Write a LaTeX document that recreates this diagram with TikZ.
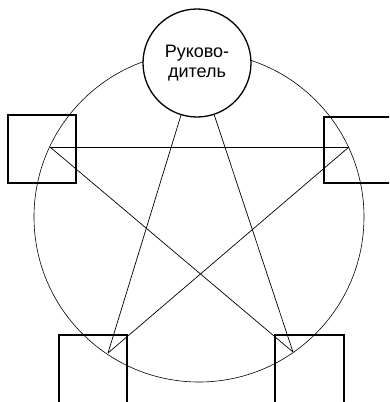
\documentclass[tikz,border=0pt]{standalone}
\usepackage{fontspec}
\setmainfont{Liberation Sans}
\begin{document}
\begin{tikzpicture}[x=1pt,y=-1pt,
  boxst/.style={draw,line width=1.2pt},
  linkst/.style={draw,line width=0.7pt},
  ringst/.style={draw,line width=0.6pt}]
\useasboundingbox (0,0) rectangle (389,402);
\draw[ringst] (199,217) circle (165);
% squares (clipped at the picture edge)
\begin{scope}
\clip (0,0) rectangle (389,402);
\draw[boxst] (8,115) rectangle (76,183);
\draw[boxst] (324,117) rectangle (392,183);
\draw[boxst] (59,405) -- (59,335) -- (127,335) -- (127,405);
\draw[boxst] (275,405) -- (275,335) -- (344,335) -- (344,405);
\end{scope}
\node[circle,draw,fill=white,line width=1.3pt,minimum size=108pt,inner sep=0pt,
  align=center,font=\fontsize{18}{20}\selectfont] (head) at (197,63) {Руково-\\дитель};
\coordinate (L) at (50,147);
\coordinate (R) at (349,147);
\coordinate (BL) at (108,353);
\coordinate (BR) at (293,352);
\draw[linkst] (L) -- (R);
\draw[linkst] (L) -- (BR);
\draw[linkst] (R) -- (BL);
\draw[linkst] (head) -- (BL);
\draw[linkst] (head) -- (BR);
\end{tikzpicture}
\end{document}
